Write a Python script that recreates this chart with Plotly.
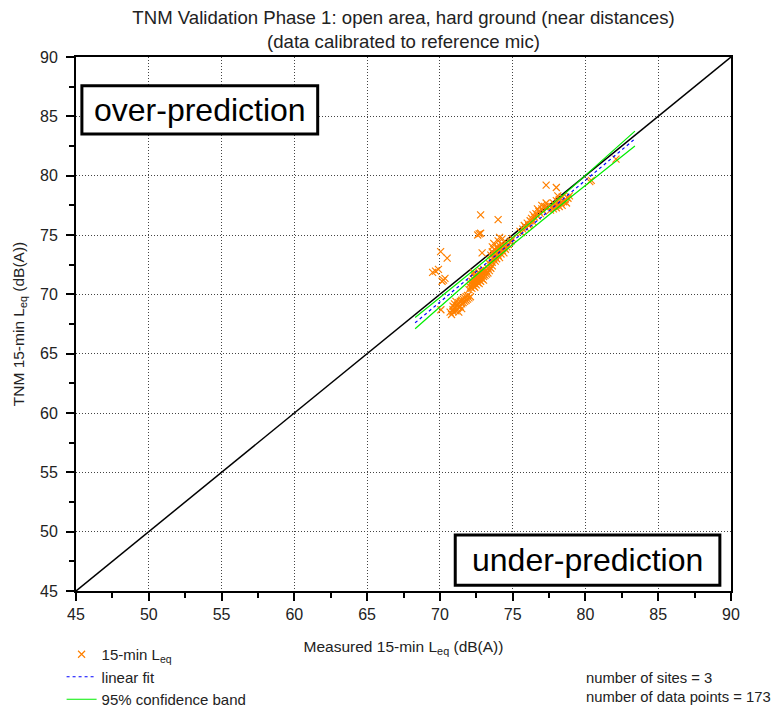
import plotly.graph_objects as go

# ---------------- data ----------------
outliers = [(70.05, 73.6), (70.5, 73.05), (69.7, 71.95), (69.5, 71.85), (69.9, 72.1),
            (70.25, 71.2), (70.35, 71.35), (70.15, 71.1), (70.07, 68.7), (70.9, 68.55),
            (72.8, 76.7), (74.0, 76.3), (72.7, 75.1), (72.6, 75.0), (72.8, 75.15),
            (72.9, 73.5), (77.3, 79.2), (78.0, 79.0), (80.4, 79.6), (82.1, 81.4), (80.3, 79.5)]
cluster_a = [(70.7, 68.5), (70.8, 68.3), (70.9, 68.7), (71.0, 68.9), (71.1, 68.6), (71.2, 68.8),
             (71.2, 69.1), (71.3, 68.9), (71.3, 69.3), (71.4, 69.0), (71.4, 69.4), (71.5, 69.2),
             (71.5, 69.5), (71.6, 69.3), (71.6, 69.6), (71.7, 69.4), (71.7, 69.7), (71.8, 69.5),
             (71.8, 69.8), (71.9, 69.6), (71.9, 69.9), (72.0, 69.7), (71.0, 69.2), (71.1, 69.4),
             (70.9, 69.0), (71.5, 68.8), (72.1, 69.8), (71.3, 68.5)]
cluster_b = [(72.0, 70.4), (72.1, 70.6), (72.1, 70.9), (72.2, 70.5), (72.2, 70.8), (72.2, 71.1),
             (72.3, 70.7), (72.3, 71.0), (72.3, 71.3), (72.4, 70.6), (72.4, 70.9), (72.4, 71.2),
             (72.4, 71.5), (72.5, 70.8), (72.5, 71.1), (72.5, 71.4), (72.5, 71.7), (72.6, 71.0),
             (72.6, 71.3), (72.6, 71.6), (72.7, 70.9), (72.7, 71.2), (72.7, 71.5), (72.7, 71.8),
             (72.8, 71.1), (72.8, 71.4), (72.8, 71.7), (72.8, 72.0), (72.9, 71.3), (72.9, 71.6),
             (72.9, 71.9), (73.0, 71.2), (73.0, 71.5), (73.0, 71.8), (73.0, 72.1), (73.1, 71.6),
             (73.1, 71.9), (73.2, 71.7), (73.2, 72.0), (73.3, 71.8), (73.3, 72.2), (73.4, 72.0),
             (73.5, 72.2), (73.6, 72.4), (72.3, 71.8)]
cluster_c = [(73.4, 72.6), (73.5, 72.9), (73.5, 73.3), (73.6, 72.7), (73.6, 73.6), (73.6, 74.0),
             (73.7, 73.0), (73.7, 73.4), (73.7, 74.3), (73.8, 72.8), (73.8, 73.2), (73.8, 73.7),
             (73.9, 73.0), (73.9, 73.5), (73.9, 74.0), (74.0, 73.3), (74.0, 73.8), (74.0, 74.5),
             (74.1, 73.1), (74.1, 73.6), (74.1, 74.1), (74.1, 74.8), (74.2, 73.4), (74.2, 73.9),
             (74.3, 73.7), (74.3, 74.2), (74.4, 73.5), (74.4, 74.0), (74.5, 73.8), (74.5, 74.3),
             (74.6, 74.0), (74.7, 74.2), (74.8, 74.4), (74.9, 74.5), (75.0, 74.7), (74.3, 74.7)]
cluster_d = [(75.5, 75.3), (75.7, 75.5), (75.8, 75.8), (75.9, 75.6), (76.0, 76.0), (76.1, 75.8),
             (76.2, 76.2), (76.3, 76.4), (76.4, 76.1), (76.5, 76.5), (76.6, 76.8), (76.7, 76.6),
             (76.8, 77.0), (76.9, 76.8), (77.0, 77.2), (77.0, 77.5), (77.1, 77.0), (77.2, 77.4),
             (77.3, 77.7), (76.4, 76.7), (76.2, 75.9), (77.4, 77.3), (75.6, 75.2), (76.7, 77.2)]
cluster_e = [(77.6, 77.1), (77.7, 77.4), (77.8, 77.2), (77.8, 77.7), (77.9, 77.5), (78.0, 77.3),
             (78.0, 77.9), (78.1, 77.6), (78.2, 77.4), (78.2, 78.0), (78.3, 77.7), (78.4, 77.5),
             (78.4, 78.2), (78.5, 77.8), (78.6, 78.0), (78.7, 77.7), (78.8, 78.1), (78.9, 78.3),
             (78.1, 78.3)]

fit_x = [68.3, 83.4]
fit_y = [67.6, 83.1]
band_x = [68.3, 72.0, 75.0, 79.0, 83.4]
band_upper = [68.05, 71.72, 74.78, 78.93, 83.75]
band_lower = [67.1, 71.1, 74.2, 78.2, 82.5]
identity = [45, 90]
tick_vals = [45, 50, 55, 60, 65, 70, 75, 80, 85, 90]

all_pts = outliers + cluster_a + cluster_b + cluster_c + cluster_d + cluster_e
measured = [p[0] for p in all_pts]
predicted = [p[1] for p in all_pts]

FONT = "Arial, Liberation Sans, sans-serif"
fig = go.Figure()

fig.add_trace(go.Scatter(x=identity, y=identity, mode="lines",
                         line=dict(color="black", width=1.5), showlegend=False, hoverinfo="skip"))
fig.add_trace(go.Scatter(x=measured, y=predicted, mode="markers", name="15-min L<sub>eq</sub>",
                         marker=dict(symbol="x-thin", size=7, color="#ff8000",
                                     line=dict(color="#ff8000", width=1.2))))
fig.add_trace(go.Scatter(x=fit_x, y=fit_y, mode="lines", name="linear fit",
                         line=dict(color="#0000ff", width=1.2, dash="dot")))
fig.add_trace(go.Scatter(x=band_x, y=band_upper, mode="lines", name="95% confidence band",
                         line=dict(color="#00ee00", width=1.2), legendgroup="band"))
fig.add_trace(go.Scatter(x=band_x, y=band_lower, mode="lines", name="95% confidence band",
                         line=dict(color="#00ee00", width=1.2), legendgroup="band", showlegend=False))

axis_common = dict(range=[45, 90], tickvals=tick_vals, ticks="outside", ticklen=8, tickwidth=2,
                   tickcolor="black", showline=True, linewidth=2, linecolor="black", mirror=True,
                   showgrid=True, gridcolor="#444", gridwidth=1, griddash="1px,2px",
                   zeroline=False, automargin=False,
                   tickfont=dict(family=FONT, size=16, color="#222"),
                   minor=dict(dtick=2.5, ticks="outside", ticklen=5, tickwidth=2,
                              tickcolor="black", showgrid=False))

fig.update_xaxes(**axis_common,
                 title=dict(text="Measured 15-min L<sub>eq</sub> (dB(A))",
                            font=dict(family=FONT, size=15.5, color="#222"), standoff=19))
fig.update_yaxes(**axis_common, ticklabelstandoff=5,
                 title=dict(text="TNM 15-min L<sub>eq</sub> (dB(A))",
                            font=dict(family=FONT, size=15.5, color="#222"), standoff=12))

fig.update_layout(
    width=773, height=700,
    margin=dict(l=68, r=50, t=49, b=117, autoexpand=False),
    plot_bgcolor="white", paper_bgcolor="white",
    title=dict(text="TNM Validation Phase 1: open area, hard ground (near distances)<br>(data calibrated to reference mic)",
               x=0.5, xref="paper", xanchor="center", y=1 - 15.5 / 700, yref="container",
               yanchor="middle", font=dict(family=FONT, size=18.6, color="#222")),
    legend=dict(x=-0.022, y=-0.088, xanchor="left", yanchor="top", bgcolor="rgba(0,0,0,0)",
                font=dict(family=FONT, size=15, color="#222"), tracegroupgap=0),
    showlegend=True,
    shapes=[
        dict(type="rect", xref="paper", yref="paper", x0=0.009, x1=0.369, y0=0.856, y1=0.946,
             line=dict(color="black", width=3), fillcolor="white", layer="above"),
        dict(type="rect", xref="paper", yref="paper", x0=0.579, x1=0.983, y0=0.011, y1=0.105,
             line=dict(color="black", width=3), fillcolor="white", layer="above"),
    ],
    annotations=[
        dict(text="over-prediction", xref="paper", yref="paper", x=0.189, y=0.901,
             xanchor="center", yanchor="middle",
             showarrow=False, font=dict(family=FONT, size=32, color="black")),
        dict(text="under-prediction", xref="paper", yref="paper", x=0.781, y=0.058,
             xanchor="center", yanchor="middle",
             showarrow=False, font=dict(family=FONT, size=32, color="black")),
        dict(text="number of sites = 3<br>number of data points = 173", xref="paper", yref="paper",
             x=0.775, y=-0.144, xanchor="left", yanchor="top", align="left", showarrow=False,
             font=dict(family=FONT, size=14.8, color="#222")),
    ],
)

fig.write_html("out.html")
